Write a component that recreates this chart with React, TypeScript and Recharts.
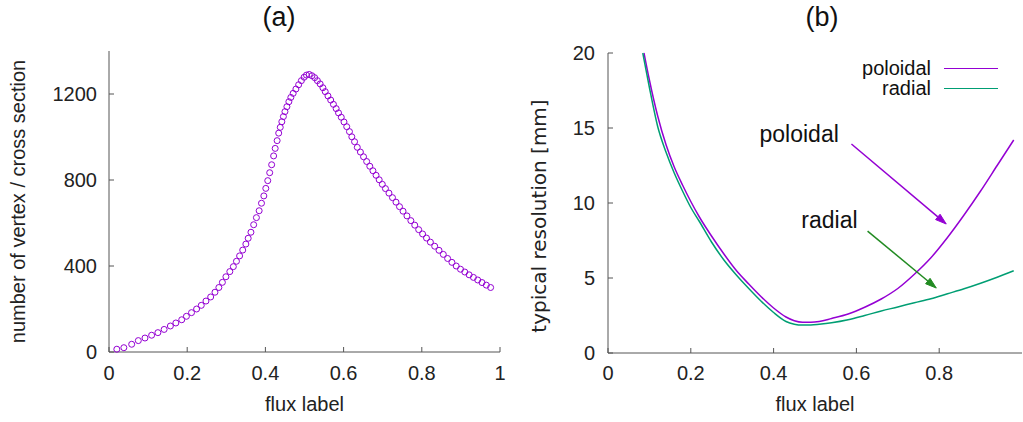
import React from "react";
import {
  ScatterChart,
  Scatter,
  LineChart,
  Line,
  XAxis,
  YAxis,
  Legend,
  ReferenceLine,
  ReferenceDot,
} from "recharts";

// (a) vertices per cross section vs flux label
const vertexFlux = [
  0.02, 0.038, 0.058, 0.075, 0.092, 0.109, 0.125, 0.141, 0.157, 0.171, 0.186, 0.198,
  0.211, 0.224, 0.236, 0.248, 0.26, 0.271, 0.281, 0.29, 0.299, 0.309, 0.318, 0.326,
  0.334, 0.342, 0.35, 0.356, 0.363, 0.37, 0.377, 0.384, 0.39, 0.396, 0.401, 0.406,
  0.411, 0.416, 0.421, 0.425, 0.43, 0.434, 0.438, 0.442, 0.446, 0.45, 0.455, 0.46,
  0.465, 0.471, 0.478, 0.485, 0.492, 0.499, 0.505, 0.512, 0.519, 0.526, 0.533, 0.54,
  0.547, 0.553, 0.56, 0.567, 0.574, 0.581, 0.587, 0.594, 0.601, 0.608, 0.615, 0.621,
  0.628, 0.635, 0.643, 0.651, 0.659, 0.667, 0.675, 0.683, 0.691, 0.699, 0.707, 0.716,
  0.725, 0.734, 0.743, 0.752, 0.762, 0.772, 0.782, 0.792, 0.802, 0.812, 0.822, 0.833,
  0.844, 0.855, 0.866, 0.877, 0.888, 0.899, 0.91, 0.921, 0.932, 0.943, 0.954, 0.965,
  0.976,
];
const vertexCount = [
  13, 20, 36, 53, 65, 78, 90, 105, 121, 135, 150, 166,
  183, 200, 217, 237, 256, 278, 300, 324, 350, 374, 397, 422,
  447, 474, 502, 529, 557, 592, 625, 657, 692, 726, 761, 797,
  834, 871, 912, 947, 983, 1018, 1045, 1071, 1095, 1118, 1141, 1164,
  1184, 1203, 1223, 1243, 1262, 1278, 1288, 1291, 1285, 1276, 1262, 1247,
  1229, 1211, 1191, 1172, 1152, 1132, 1112, 1092, 1070, 1048, 1025, 1001,
  978, 952, 930, 908, 886, 864, 843, 822, 801, 780, 760, 739,
  718, 697, 676, 655, 633, 611, 590, 569, 549, 530, 511, 492,
  473, 454, 435, 417, 400, 385, 372, 359, 347, 335, 323, 311,
  300,
];

// (b) typical resolution [mm]
const poloidalFlux = [
  0.087, 0.1, 0.12, 0.14, 0.16, 0.18, 0.2, 0.22, 0.25, 0.28, 0.31, 0.34, 0.37, 0.4,
  0.43, 0.45, 0.47, 0.49, 0.51, 0.54, 0.58, 0.62, 0.66, 0.7, 0.74, 0.78, 0.82, 0.86,
  0.9, 0.94, 0.98,
];
const poloidalRes = [
  20, 18.2, 15.8, 13.9, 12.4, 11.2, 10.1, 9.1, 7.8, 6.6, 5.5, 4.6, 3.75, 3.0,
  2.4, 2.15, 2.05, 2.05, 2.1, 2.3, 2.6, 3.05, 3.6, 4.3, 5.25, 6.35, 7.7, 9.2,
  10.8, 12.5, 14.2,
];
const radialFlux = [
  0.084, 0.1, 0.12, 0.14, 0.16, 0.18, 0.2, 0.22, 0.25, 0.28, 0.31, 0.34, 0.37, 0.4,
  0.43, 0.45, 0.47, 0.49, 0.51, 0.54, 0.58, 0.62, 0.66, 0.7, 0.74, 0.78, 0.82, 0.86,
  0.9, 0.94, 0.98,
];
const radialRes = [
  20, 17.7, 15.1, 13.4, 12.0, 10.8, 9.7, 8.8, 7.4, 6.2, 5.2, 4.3, 3.45, 2.7,
  2.1, 1.92, 1.86, 1.87, 1.92, 2.02, 2.22, 2.5, 2.8, 3.07, 3.35, 3.62, 3.95, 4.28,
  4.65, 5.05, 5.48,
];

const xTicksA = [0, 0.2, 0.4, 0.6, 0.8, 1];
const yTicksA = [0, 400, 800, 1200];
const xTicksB = [0, 0.2, 0.4, 0.6, 0.8];
const yTicksB = [0, 5, 10, 15, 20];

const PURPLE = "#9400d3";
const GREEN = "#009e73";
const DARK_GREEN = "#228b22";
const BOX = "#555";
const FONT = '"Liberation Sans", Arial, sans-serif';

const noteLabels = [
  { text: "poloidal", x: 0.366, y: 14.6 },
  { text: "radial", x: 0.467, y: 8.87 },
];
const noteArrows = [
  { x1: 0.588, y1: 13.93, x2: 0.817, y2: 8.6, color: PURPLE },
  { x1: 0.627, y1: 8.13, x2: 0.793, y2: 4.33, color: DARK_GREEN },
];

const vertexData = vertexFlux.map((x, i) => ({ x, y: vertexCount[i] }));
const poloidalData = poloidalFlux.map((x, i) => ({ x, y: poloidalRes[i] }));
const radialData = radialFlux.map((x, i) => ({ x, y: radialRes[i] }));

const tickStyle = { fill: "#222", fontSize: 20, fontFamily: FONT };
const frame = {
  axisLine: { stroke: BOX },
  tickLine: { stroke: BOX },
  tickSize: -5,
};

const Circle = (p: any) => (
  <circle cx={p.cx} cy={p.cy} r={3} fill="none" stroke={PURPLE} strokeWidth={1} />
);

const arrowShape = (color: string) => (p: any) => {
  const { x1, y1, x2, y2 } = p;
  const dx = x2 - x1;
  const dy = y2 - y1;
  const len = Math.sqrt(dx * dx + dy * dy);
  const ux = dx / len;
  const uy = dy / len;
  const bx = x2 - ux * 11;
  const by = y2 - uy * 11;
  const pts = `${x2},${y2} ${bx - uy * 3.5},${by + ux * 3.5} ${bx + uy * 3.5},${by - ux * 3.5}`;
  return (
    <g>
      <line x1={x1} y1={y1} x2={bx} y2={by} stroke={color} strokeWidth={1.5} />
      <polygon points={pts} fill={color} stroke={color} strokeWidth={1} />
    </g>
  );
};

// rotated y label, drawn a little below the middle of the axis like the original
const resolutionLabel = (p: any) => {
  const vb = p.viewBox;
  const cx = vb.x - 2;
  const cy = vb.y + vb.height / 2 + 13;
  return (
    <text
      x={cx}
      y={cy}
      transform={`rotate(-90 ${cx} ${cy})`}
      textAnchor="middle"
      dominantBaseline="central"
      fontSize={20}
      fontFamily='"DejaVu Sans", sans-serif'
      fill="#222"
    >
      typical resolution [mm]
    </text>
  );
};

const LegendBox = (props: any) => (
  <div style={{ fontFamily: FONT, fontSize: 20, color: "#111" }}>
    {props.payload.map((e: any) => (
      <div
        key={e.value}
        style={{ display: "flex", justifyContent: "flex-end", alignItems: "center", height: 20, lineHeight: "20px" }}
      >
        <span>{e.value}</span>
        <span style={{ display: "inline-block", width: 54, marginLeft: 13, borderTop: `1.5px solid ${e.color}` }} />
      </div>
    ))}
  </div>
);

const titleStyle: React.CSSProperties = {
  position: "absolute",
  top: 2,
  width: 80,
  textAlign: "center",
  fontFamily: FONT,
  fontSize: 27,
  color: "#111",
};

export default function App() {
  return (
    <div style={{ position: "absolute", left: 0, top: 0, width: 1023, height: 422, background: "#fff", overflow: "hidden" }}>
      <div style={{ ...titleStyle, left: 239 }}>(a)</div>
      <div style={{ ...titleStyle, left: 782 }}>(b)</div>

      <div style={{ position: "absolute", left: 0, top: 0 }}>
        <ScatterChart width={520} height={422} margin={{ top: 51, right: 20, bottom: 11, left: 18 }}>
          <XAxis
            xAxisId="b"
            type="number"
            dataKey="x"
            domain={[0, 1]}
            ticks={xTicksA}
            height={59}
            tickMargin={19}
            tick={tickStyle}
            {...frame}
            label={{ value: "flux label", position: "insideBottom", offset: 0, style: { fontSize: 20, fontFamily: FONT, fill: "#222" } }}
          />
          <XAxis xAxisId="t" orientation="top" type="number" dataKey="x" domain={[0, 1]} ticks={xTicksA} height={0} tick={false} {...frame} />
          <YAxis
            yAxisId="l"
            type="number"
            dataKey="y"
            domain={[0, 1400]}
            ticks={yTicksA}
            width={91}
            tickMargin={17}
            tick={tickStyle}
            {...frame}
            label={{
              value: "number of vertex / cross section",
              angle: -90,
              position: "insideLeft",
              offset: 0,
              style: { textAnchor: "middle", fontSize: 20, fontFamily: FONT, fill: "#222" },
            }}
          />
          <YAxis yAxisId="r" orientation="right" type="number" dataKey="y" domain={[0, 1400]} ticks={yTicksA} width={0} tick={false} {...frame} />
          <Scatter xAxisId="b" yAxisId="l" data={vertexData} shape={Circle} isAnimationActive={false} />
        </ScatterChart>
      </div>

      <div style={{ position: "absolute", left: 520, top: 0 }}>
        <LineChart width={503} height={422} margin={{ top: 53, right: 1, bottom: 11, left: 21 }}>
          <XAxis
            xAxisId="b"
            type="number"
            dataKey="x"
            domain={[0, 1]}
            ticks={xTicksB}
            height={58}
            tickMargin={18}
            tick={tickStyle}
            {...frame}
            label={{ value: "flux label", position: "insideBottom", offset: 0, style: { fontSize: 20, fontFamily: FONT, fill: "#222" } }}
          />
          <XAxis xAxisId="t" orientation="top" type="number" dataKey="x" domain={[0, 1]} ticks={xTicksB} height={0} tick={false} {...frame} />
          <YAxis
            yAxisId="l"
            type="number"
            dataKey="y"
            domain={[0, 20]}
            ticks={yTicksB}
            width={67}
            tickMargin={18}
            tick={tickStyle}
            {...frame}
            label={resolutionLabel}
          />
          <YAxis yAxisId="r" orientation="right" type="number" dataKey="y" domain={[0, 20]} ticks={yTicksB} width={0} tick={false} {...frame} />
          <Line
            xAxisId="b"
            yAxisId="l"
            data={poloidalData}
            dataKey="y"
            name="poloidal"
            type="monotone"
            stroke={PURPLE}
            strokeWidth={1.5}
            dot={false}
            isAnimationActive={false}
          />
          <Line
            xAxisId="b"
            yAxisId="l"
            data={radialData}
            dataKey="y"
            name="radial"
            type="monotone"
            stroke={GREEN}
            strokeWidth={1.5}
            dot={false}
            isAnimationActive={false}
          />
          {noteArrows.map((a, i) => (
            <ReferenceLine
              key={`arrow-${i}`}
              xAxisId="b"
              yAxisId="l"
              segment={[{ x: a.x1, y: a.y1 }, { x: a.x2, y: a.y2 }]}
              shape={arrowShape(a.color)}
            />
          ))}
          {noteLabels.map((n) => (
            <ReferenceDot
              key={n.text}
              xAxisId="b"
              yAxisId="l"
              x={n.x}
              y={n.y}
              r={0}
              shape={(p: any) => (
                <text x={p.cx} y={p.cy + 8} fontSize={23} fontFamily={FONT} fill="#111">
                  {n.text}
                </text>
              )}
            />
          ))}
          <Legend
            layout="vertical"
            align="center"
            verticalAlign="middle"
            content={LegendBox}
            wrapperStyle={{ position: "absolute", top: 58, left: 320, width: 158 }}
          />
        </LineChart>
      </div>
    </div>
  );
}
